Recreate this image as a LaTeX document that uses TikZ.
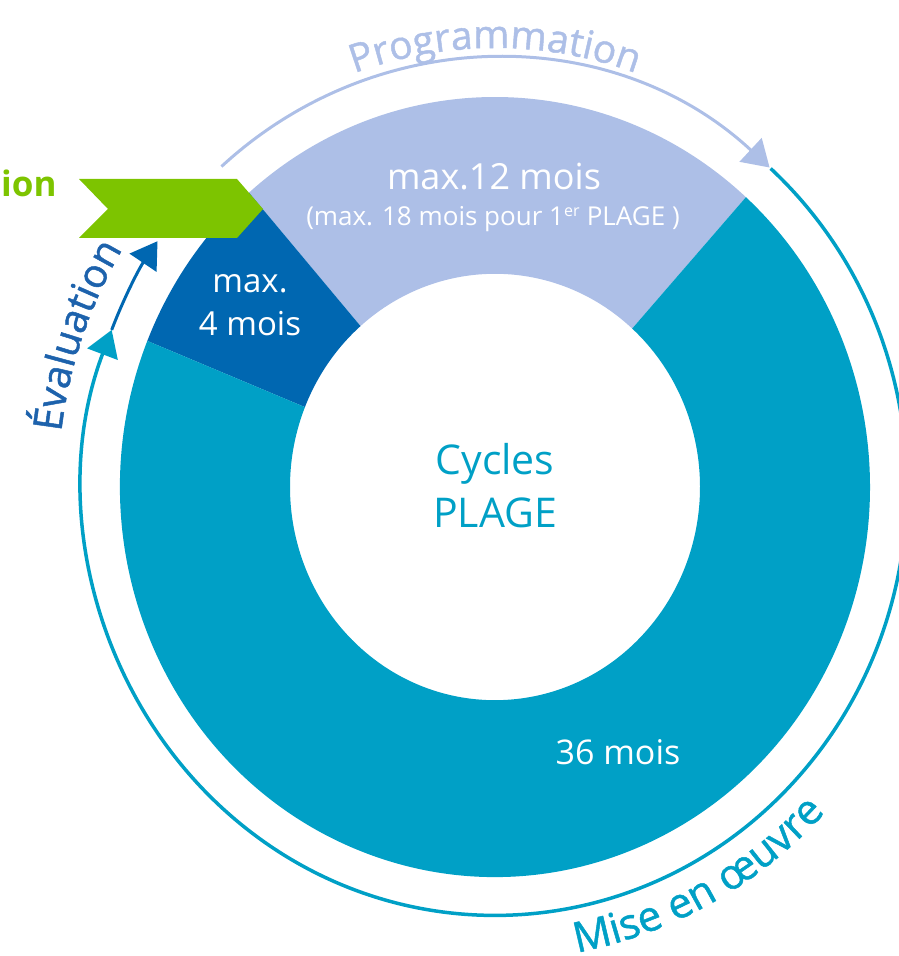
\documentclass[tikz,border=0pt]{standalone}
\usepackage{fontspec}
\setmainfont{Open Sans}
\newfontfamily\arcfont[FakeBold=1.2]{Open Sans}
\usetikzlibrary{arrows.meta,decorations.text}

\definecolor{plagelight}{HTML}{ADBFE7}
\definecolor{plagedark}{HTML}{0067B1}
\definecolor{plageteal}{HTML}{00A0C6}
\definecolor{plagegreen}{HTML}{7DC400}
\definecolor{evalblue}{HTML}{1D62AC}

\newcommand{\plagefont}[1]{\fontsize{#1}{#1}\selectfont}

\tikzset{
  seglabel/.style={text=white, align=center, inner sep=0pt},
  cycletip/.style={-{Triangle[length=26pt,width=32pt]}},
}

\begin{document}
\begin{tikzpicture}[x=1pt,y=1pt]
	\useasboundingbox (0,0) rectangle (899,956);
	\begin{scope}[shift={(495,469)}, yscale=1.04]
		% donut segments
		\fill[plagelight] (48:205) -- (48:375) arc[start angle=48, end angle=131, radius=375] -- (131:205) arc[start angle=131, end angle=48, radius=205] -- cycle;
		\fill[plagedark] (131:205) -- (131:375) arc[start angle=131, end angle=158, radius=375] -- (158:205) arc[start angle=158, end angle=131, radius=205] -- cycle;
		\fill[plageteal] (158:205) -- (158:375) arc[start angle=158, end angle=408, radius=375] -- (48:205) arc[start angle=408, end angle=158, radius=205] -- cycle;
		% outer cycle
		\coordinate (progstart) at (131.6:412);
		\coordinate (implstart) at (48:412);
		\coordinate (evalstart) at (158.5:412);
		\draw[plagelight, line width=3, cycletip] (progstart) arc[start angle=131.6, end angle=48.2, radius=412];
		\draw[plageteal, line width=3.5, cycletip] (implstart) arc[start angle=48, end angle=-201.5, radius=412];
		\draw[plagedark, line width=3, cycletip] (evalstart) arc[start angle=158.5, end angle=145, radius=412];
		% arc texts
		\path[decorate, decoration={text along path, text align=center, text color=plagelight,
			text={|\arcfont\plagefont{39}|Programmation}}] (150:422) arc[start angle=150, end angle=30, radius=422];
		\path[decorate, decoration={text along path, text align=center, text color=plageteal,
			text={|\arcfont\plagefont{42}|Mise en œuvre}}] (-112:455) arc[start angle=-112, end angle=-12, radius=455];
		\path[decorate, decoration={text along path, text align=center, text color=evalblue,
			text={|\arcfont\plagefont{40}|Évaluation}}] (200.5:437) arc[start angle=200.5, end angle=120.5, radius=437];
	\end{scope}
	% validation flag
	\fill[plagegreen] (79,777) -- (237,777) -- (263,747) -- (237,718) -- (79,718) -- (108,747) -- cycle;
	\node[anchor=base west, text=plagegreen, font=\bfseries\plagefont{35}, inner sep=0pt] (valid) at (1,759) {ion};
	% labels
	\node[seglabel, font=\plagefont{36}] (prog) at (494,779) {max.12 mois};
	\node[seglabel, font=\plagefont{26}] (progfirst) at (493,737) {(max. 18 mois pour 1\textsuperscript{\plagefont{16}er} PLAGE )};
	\node[seglabel, font=\plagefont{33}, text height=24, text depth=0] (evalm) at (250,632) {max.\\[10pt]4 mois};
	\node[seglabel, font=\plagefont{34}] (impl) at (618,204) {36 mois};
	\node[align=center, text=plageteal, font=\plagefont{41}, inner sep=0pt] (cycles) at (495,470) {Cycles\\[12pt]PLAGE};
\end{tikzpicture}
\end{document}
